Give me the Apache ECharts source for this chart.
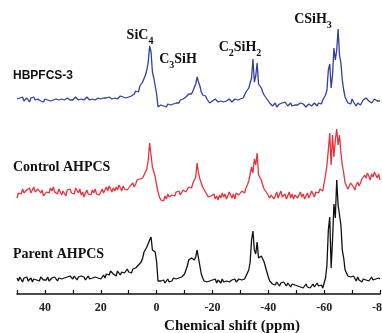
<!DOCTYPE html>
<html>
<head>
<meta charset="utf-8">
<script src="https://cdn.jsdelivr.net/npm/echarts@6/dist/echarts.min.js"></script>
<style>
html, body { margin: 0; padding: 0; background: #fff; }
#chart { width: 382px; height: 333px; }
</style>
</head>
<body>
<div id="chart"></div>
<script>
// chemical shift grid (ppm), 50 -> -80 in 0.5 steps
var ppm = [];
for (var i = 0; i <= 260; i++) ppm.push(50 - i * 0.5);

// intensities, relative to each trace's own baseline
// one row = 10 ppm (20 points)
var hbpfcs = [
	1, -1, 2, 0, 3, -1, 1, 2, 0, -2, 2, 1, 3, 0, -2, 1, 2, -1, 0, -2,          // 50..40.5
	1, 3, 0, 2, -1, 1, 0, 2, 1, 3, 0, -1, 1, 2, 0, -1, 2, 1, 0, 2,             // 40..30.5
	0, 1, 3, 1, 0, 2, 1, -1, 0, 2, 3, 1, 0, 2, 1, 3, 0, 1, 2, 0,               // 30..20.5
	1, 3, 2, 0, 2, 1, 3, 2, 1, 3, 2, 4, 1, 2, 4, 2, 3, 5, 2, 3,                // 20..10.5
	3, 5, 4, 6, 6, 9, 11, 8, 14, 12, 18, 16, 25, 30, 38, 54, 48, 28, 22, 20,   // 10..0.5
	6, -7, -6, -5, -7, -6, -5, -7, -4, -6, -5, -3, -4, -2, -3, -1, -3, 0, -1, 1, // 0..-9.5
	2, 3, 4, 6, 7, 6, 9, 11, 16, 23, 18, 14, 8, 5, 3, 4, 1, 0, -3, -2,         // -10..-19.5
	-1, -3, 1, 2, -2, 0, -1, -3, -2, 0, -1, -2, 1, -1, -2, 0, 1, -1, 0, 2,     // -20..-29.5
	1, 3, 2, 5, 8, 6, 12, 10, 22, 41, 18, 24, 37, 16, 14, 12, 8, 5, 3, 1,      // -30..-39.5
	-1, -3, -4, -6, -5, -3, -7, -5, -4, -6, -3, -5, -2, -4, -6, -5, -3, -6, -4, -5, // -40..-49.5
	-7, -5, -6, -3, -5, -4, -6, -7, -5, -4, -3, -6, -5, -3, -4, -6, -3, -2, -4, 0,  // -50..-59.5
	2, 5, 10, 30, 36, 12, 25, 52, 40, 50, 71, 45, 37, 20, 10, 3, 0, -3, -2, -4,     // -60..-69.5
	1, -2, -4, -6, -3, -2, -5, -4, 0, 1, 2, 3, -1, 0, -3, -2, 1, 0, -1, 1,          // -70..-79.5
	-1                                                                               // -80
];
var control = [
	-3, 2, 4, 1, 6, 2, 0, 5, 3, 7, 2, 4, 8, 3, 1, 6, 4, 2, 5, -1,
	-2, 3, 5, 2, 7, 4, 8, 3, 5, 1, 6, 3, 0, 4, 2, -1, 5, 3, 6, 2,
	4, 1, 7, 5, 2, 6, 0, 3, -2, 2, 5, 1, 3, 0, 5, 2, 6, 1, 3, 0,
	3, 6, 2, 5, 8, 4, 9, 6, 3, 7, 4, 8, 5, 10, 7, 4, 9, 6, 8, 5,
	4, 9, 7, 12, 8, 11, 15, 13, 16, 14, 17, 20, 22, 26, 35, 52, 40, 28, 26, 18,
	10, 3, -2, -5, -3, -6, -1, -4, 1, -2, -4, 0, 2, -1, 3, 1, 4, 0, 2, 5,
	6, 3, 4, 8, 9, 7, 12, 10, 18, 32, 22, 16, 14, 8, 6, 3, 2, -2, -4, -1,
	-2, 1, -4, -1, -5, 0, -3, 2, -2, 1, -4, -1, 3, 0, -3, 1, -4, 2, 3, 0,
	0, 4, 5, 2, 7, 10, 14, 12, 28, 22, 36, 30, 42, 20, 18, 15, 10, 6, 5, 2,
	2, -3, 0, 2, -4, -1, 3, -3, -1, 4, -2, 0, 1, -4, -2, 3, -3, 1, -4, 0,
	2, -3, 0, 3, -2, 1, -4, -1, 2, -3, 0, 4, 1, -2, 3, 5, 2, 6, 8, 4,
	12, 20, 30, 45, 62, 30, 60, 38, 55, 66, 50, 60, 42, 30, 22, 12, 10, 6, 8, 12,
	14, 8, 5, 10, 13, 9, 12, 16, 14, 20, 17, 22, 19, 15, 21, 18, 23, 20, 17, 21,
	15
];
var parent = [
	2, -1, 3, 1, -2, 2, 0, 3, -1, 1, 2, -2, 1, 3, 0, 2, -1, 3, 1, 0,
	2, 0, 3, -1, 1, 2, 0, 3, 1, -1, 2, 4, 1, 3, 2, 0, 3, 1, 4, 2,
	1, 4, 2, 0, 3, 1, 4, 2, 3, 0, 2, 4, 1, -1, 2, 0, 3, 1, 2, 4,
	1, 3, 5, 2, 6, 8, 5, 9, 7, 6, 8, 4, 9, 7, 5, 8, 10, 7, 9, 11,
	8, 10, 7, 11, 9, 12, 13, 15, 14, 18, 22, 28, 30, 33, 35, 40, 43, 30, 32, 28,
	18, -1, -3, -1, -2, 0, -3, -1, 1, -2, 0, -1, 2, 0, 1, 3, 2, 4, 3, 5,
	6, 8, 14, 20, 18, 22, 24, 20, 23, 30, 22, 14, 6, 2, -1, -3, -2, 0, -1, -3,
	0, -2, 1, -3, 0, -1, -3, 1, -2, 0, -1, 1, -2, -3, 0, -1, 1, -2, 0, 1,
	-1, 0, 2, 1, 4, 6, 10, 18, 40, 49, 30, 26, 38, 22, 22, 24, 25, 18, 16, 8,
	3, -1, -2, -4, -3, -5, -2, -4, -6, -3, -5, -2, -4, -6, -3, -5, -7, -4, -2, -5,
	-3, -6, -4, -7, -5, -8, -6, -4, -7, -5, -8, -6, -4, -7, -5, -3, -6, -4, -5, -8,
	-6, 2, 15, 50, 63, 12, 40, 76, 62, 100, 75, 65, 55, 30, 22, 10, 8, 4, 6, 3,
	1, 4, 2, -1, 3, 0, 2, -2, 1, 3, 0, 2, -1, 1, 3, 0, 2, 1, -1, 2,
	1
];

var names = ['HBPFCS-3', 'Control AHPCS', 'Parent AHPCS'];
var offsets = [194, 99, 14];
var colors = ['#2f3fa4', '#e6323b', '#111111'];
var peakLabels = ['{m|SiC}{s|4}', '{m|C}{s|3}{m|SiH}', '{m|C}{s|2}{m|SiH}{s|2}', '{m|CSiH}{s|3}'];

var serif = "'Liberation Serif', 'Times New Roman', serif";
var sans = "'Liberation Sans', Arial, sans-serif";

function toPairs(vals, off) {
	var out = [];
	for (var i = 0; i < ppm.length; i++) {
		out.push([ppm[i], vals[i] + off]);
	}
	return out;
}

// label with subscripts
function subText(text, x, y) {
	return {
		type: 'text', x: x, y: y,
		style: {
			text: text, align: 'center', verticalAlign: 'middle',
			rich: {
				m: { fontFamily: serif, fontWeight: 'bold', fontSize: 14, lineHeight: 14, verticalAlign: 'top', fill: '#111' },
				s: { fontFamily: serif, fontWeight: 'bold', fontSize: 10, lineHeight: 10, verticalAlign: 'top', padding: [8, 0, 0, 0], fill: '#111' }
			}
		}
	};
}

var myChart = echarts.init(document.getElementById('chart'));
var traces = [hbpfcs, control, parent];
var series = [];
for (var k = 0; k < traces.length; k++) {
	series.push({
		name: names[k],
		type: 'line',
		data: toPairs(traces[k], offsets[k]),
		showSymbol: false,
		lineStyle: { width: 1.3, color: colors[k] },
		animation: false
	});
}

var option = {
	backgroundColor: '#fff',
	grid: { left: 17, right: 2, top: 0, bottom: 39, outerBoundsMode: 'none' },
	xAxis: {
		type: 'value',
		min: -80, max: 50, interval: 10,
		inverse: true,
		axisLine: { lineStyle: { color: '#111', width: 1.5 } },
		axisTick: { inside: true, length: 4, lineStyle: { color: '#111', width: 1.2 } },
		axisLabel: {
			margin: 8,
			fontFamily: serif, fontWeight: 'bold', fontSize: 12, color: '#222',
			hideOverlap: false,
			formatter: function (v) { return (v % 20 === 0 && v !== 50) ? String(v) : ''; }
		},
		splitLine: { show: false }
	},
	yAxis: { type: 'value', min: 0, max: 294, show: false },
	series: series,
	graphic: [
		{ type: 'text', x: 13, y: 76, style: { text: names[0], font: 'bold 12px ' + sans, fill: '#111', verticalAlign: 'middle' } },
		{ type: 'text', x: 13, y: 167, style: { text: names[1], font: 'bold 14px ' + serif, fill: '#111', verticalAlign: 'middle' } },
		{ type: 'text', x: 13, y: 254, style: { text: names[2], font: 'bold 14px ' + serif, fill: '#111', verticalAlign: 'middle' } },
		subText(peakLabels[0], 140, 35),
		subText(peakLabels[1], 178, 59),
		subText(peakLabels[2], 240, 47),
		subText(peakLabels[3], 313, 19),
		{ type: 'text', x: 232, y: 326, style: { text: 'Chemical shift (ppm)', font: 'bold 15px ' + serif, fill: '#111', align: 'center', verticalAlign: 'middle' } }
	]
};
myChart.setOption(option);
</script>
</body>
</html>
